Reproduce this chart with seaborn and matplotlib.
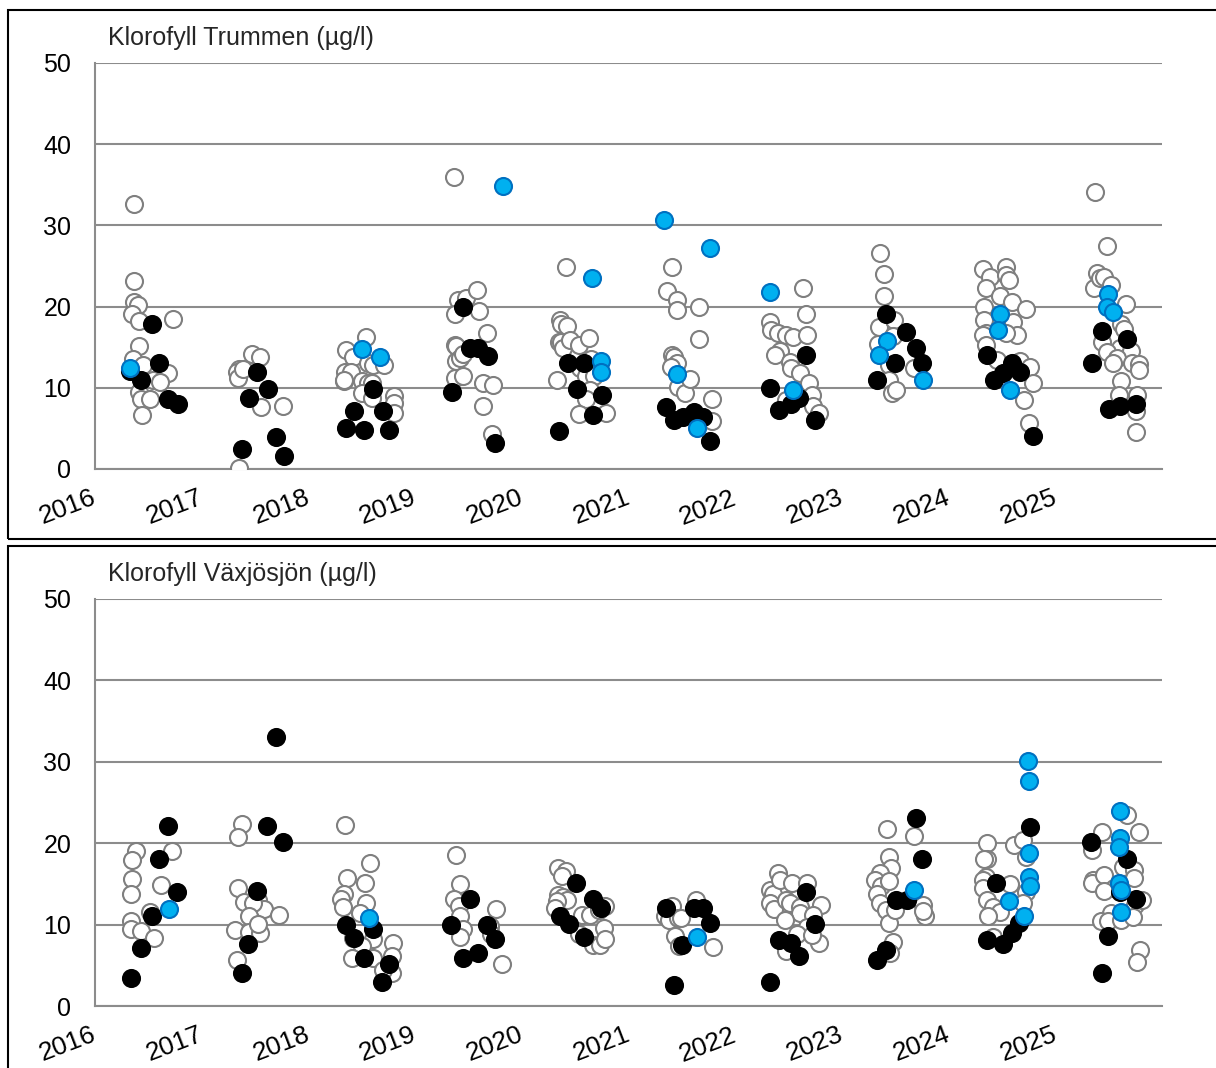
import matplotlib
matplotlib.use("Agg")
import matplotlib.pyplot as plt
from matplotlib.patches import Rectangle
from matplotlib.transforms import ScaledTranslation
import seaborn as sns

# Klorofyll Trummen: decimal year / value (ug/l)
trummen_white_x = [2016.37, 2016.37, 2016.37, 2016.40, 2016.35, 2016.41, 2016.73, 2016.41, 2016.36, 2016.45, 2016.68, 2016.54, 2016.61, 2016.41, 2016.43, 2016.52, 2016.44,
                   2017.35, 2017.33, 2017.34, 2017.39, 2017.47, 2017.55, 2017.35, 2017.56, 2017.76,
                   2018.54, 2018.35, 2018.42, 2018.56, 2018.61, 2018.71, 2018.34, 2018.40, 2018.33, 2018.33, 2018.50, 2018.56, 2018.60, 2018.50, 2018.60, 2018.80, 2018.80, 2018.80,
                   2019.36, 2019.40, 2019.48, 2019.58, 2019.37, 2019.60, 2019.67, 2019.37, 2019.38, 2019.38, 2019.42, 2019.45, 2019.37, 2019.45, 2019.64, 2019.73, 2019.64, 2019.72,
                   2020.41, 2020.36, 2020.37, 2020.42, 2020.35, 2020.37, 2020.39, 2020.45, 2020.54, 2020.63, 2020.55, 2020.60, 2020.65, 2020.68, 2020.33, 2020.64, 2020.60, 2020.54, 2020.79,
                   2021.41, 2021.36, 2021.45, 2021.45, 2021.66, 2021.66, 2021.41, 2021.43, 2021.45, 2021.40, 2021.46, 2021.53, 2021.58, 2021.78, 2021.78,
                   2022.64, 2022.66, 2022.33, 2022.34, 2022.40, 2022.48, 2022.54, 2022.67, 2022.42, 2022.37, 2022.51, 2022.52, 2022.61, 2022.69, 2022.72, 2022.48, 2022.73, 2022.79,
                   2023.36, 2023.39, 2023.39, 2023.35, 2023.49, 2023.34, 2023.48, 2023.44, 2023.68, 2023.44, 2023.47, 2023.51,
                   2024.32, 2024.39, 2024.54, 2024.54, 2024.57, 2024.35, 2024.48, 2024.59, 2024.73, 2024.60, 2024.64, 2024.33, 2024.33, 2024.35, 2024.32, 2024.35, 2024.54, 2024.45, 2024.67, 2024.76, 2024.79, 2024.71, 2024.75,
                   2025.37, 2025.48, 2025.36, 2025.39, 2025.42, 2025.46, 2025.52, 2025.66, 2025.62, 2025.64, 2025.44, 2025.61, 2025.71, 2025.48, 2025.58, 2025.54, 2025.72, 2025.78, 2025.78, 2025.62, 2025.77, 2025.60, 2025.76, 2025.76]
trummen_white_y = [32.6, 23.1, 20.6, 20.2, 19.1, 18.2, 18.5, 15.2, 13.5, 12.8, 11.8, 11.0, 10.7, 9.5, 8.6, 8.6, 6.7,
                   12.3, 11.9, 11.2, 12.3, 14.2, 13.8, 0.1, 7.6, 7.7,
                   16.2, 14.7, 13.8, 13.0, 12.8, 12.8, 11.9, 12.0, 10.8, 11.0, 10.8, 10.6, 10.6, 9.3, 8.7, 9.0, 8.1, 6.9,
                   35.9, 20.8, 21.1, 22.1, 19.1, 19.5, 16.7, 15.3, 15.1, 13.3, 13.7, 14.2, 11.2, 11.5, 10.6, 10.3, 7.8, 4.3,
                   24.9, 18.3, 17.9, 17.6, 15.7, 15.6, 14.9, 15.9, 15.3, 16.1, 12.4, 11.4, 13.6, 11.4, 10.9, 9.7, 8.6, 6.8, 6.9,
                   24.9, 21.9, 20.8, 19.6, 20.0, 16.0, 14.1, 13.8, 13.0, 12.6, 10.1, 9.4, 11.1, 8.6, 5.9,
                   22.3, 19.1, 18.1, 17.1, 16.8, 16.5, 16.2, 16.5, 14.5, 14.0, 13.2, 12.4, 11.8, 10.6, 9.1, 8.5, 7.7, 6.9,
                   26.6, 24.0, 21.3, 17.5, 18.3, 15.4, 16.4, 12.8, 12.4, 11.0, 9.3, 9.7,
                   24.6, 23.7, 24.9, 23.9, 23.3, 22.3, 21.3, 20.6, 19.7, 18.1, 16.5, 20.0, 18.3, 16.7, 16.5, 15.3, 16.8, 13.4, 13.3, 12.6, 10.6, 8.5, 5.7,
                   34.1, 27.5, 22.3, 24.1, 23.5, 23.6, 22.6, 20.3, 17.9, 17.3, 15.7, 14.9, 14.5, 14.4, 13.7, 13.1, 13.1, 12.9, 12.2, 10.8, 9.1, 9.1, 7.1, 4.6]

trummen_black_x = [2016.53, 2016.60, 2016.43, 2016.33, 2016.68, 2016.78,
                   2017.52, 2017.62, 2017.44, 2017.38, 2017.70, 2017.77,
                   2018.61, 2018.43, 2018.70, 2018.35, 2018.52, 2018.76,
                   2019.45, 2019.51, 2019.59, 2019.68, 2019.35, 2019.75,
                   2020.43, 2020.58, 2020.52, 2020.75, 2020.67, 2020.35,
                   2021.35, 2021.43, 2021.51, 2021.61, 2021.70, 2021.76,
                   2022.66, 2022.33, 2022.41, 2022.52, 2022.60, 2022.75,
                   2023.41, 2023.60, 2023.69, 2023.50, 2023.75, 2023.33,
                   2024.36, 2024.59, 2024.67, 2024.51, 2024.43, 2024.79,
                   2025.44, 2025.67, 2025.34, 2025.76, 2025.50, 2025.61]
trummen_black_y = [17.9, 13.0, 11.0, 12.1, 8.6, 8.0,
                   12.0, 9.9, 8.7, 2.5, 4.0, 1.6,
                   9.9, 7.1, 7.2, 5.0, 4.8, 4.8,
                   20.0, 14.9, 14.9, 13.9, 9.5, 3.2,
                   13.0, 13.0, 9.85, 9.1, 6.7, 4.7,
                   7.6, 6.0, 6.4, 7.0, 6.4, 3.4,
                   14.0, 10.0, 7.3, 8.0, 8.7, 6.0,
                   19.1, 16.9, 14.9, 13.0, 13.0, 11.0,
                   14.0, 13.0, 12.0, 11.8, 11.0, 4.1,
                   17.0, 16.0, 13.0, 8.0, 7.4, 7.7]

trummen_blue_x = [2016.33, 2018.50, 2018.67, 2019.82, 2020.66, 2020.74, 2020.74, 2021.33, 2021.76, 2021.45, 2021.64,
                  2022.33, 2022.54, 2023.42, 2023.35, 2023.76, 2024.48, 2024.46, 2024.58, 2025.49, 2025.48, 2025.54]
trummen_blue_y = [12.4, 14.8, 13.8, 34.9, 23.5, 13.3, 12.0, 30.7, 27.2, 11.7, 5.1,
                  21.8, 9.7, 15.8, 14.0, 11.0, 19.1, 17.1, 9.7, 21.6, 19.9, 19.3]

# Klorofyll Växjösjön
vaxjo_white_x = [2016.38, 2016.35, 2016.72, 2016.35, 2016.34, 2016.62, 2016.52, 2016.34, 2016.34, 2016.43, 2016.55,
                 2017.38, 2017.34, 2017.34, 2017.40, 2017.53, 2017.58, 2017.72, 2017.48, 2017.44, 2017.31, 2017.44, 2017.55, 2017.53, 2017.33,
                 2018.34, 2018.58, 2018.36, 2018.53, 2018.33, 2018.31, 2018.32, 2018.54, 2018.48, 2018.42, 2018.61, 2018.50, 2018.41, 2018.61, 2018.79, 2018.78, 2018.78, 2018.70,
                 2019.38, 2019.42, 2019.36, 2019.41, 2019.42, 2019.45, 2019.42, 2019.76, 2019.70, 2019.71, 2019.81,
                 2020.34, 2020.41, 2020.38, 2020.34, 2020.39, 2020.42, 2020.33, 2020.31, 2020.78, 2020.56, 2020.64, 2020.72, 2020.54, 2020.67, 2020.73, 2020.77, 2020.78,
                 2021.41, 2021.34, 2021.38, 2021.46, 2021.49, 2021.44, 2021.47, 2021.63, 2021.79,
                 2022.40, 2022.33, 2022.35, 2022.33, 2022.36, 2022.42, 2022.53, 2022.48, 2022.51, 2022.61, 2022.67, 2022.80, 2022.61, 2022.73, 2022.67, 2022.47, 2022.58, 2022.48, 2022.79, 2022.72,
                 2023.42, 2023.68, 2023.48, 2023.45, 2023.44, 2023.46, 2023.36, 2023.31, 2023.37, 2023.44, 2023.33, 2023.36, 2023.41, 2023.44, 2023.50, 2023.76, 2023.78, 2023.76,
                 2024.36, 2024.36, 2024.33, 2024.35, 2024.32, 2024.32, 2024.36, 2024.42, 2024.48, 2024.37, 2024.58, 2024.61, 2024.70, 2024.73, 2024.70, 2024.73, 2024.42,
                 2025.34, 2025.44, 2025.78, 2025.67, 2025.35, 2025.34, 2025.46, 2025.63, 2025.74, 2025.74, 2025.75, 2025.81, 2025.52, 2025.43, 2025.49, 2025.62, 2025.73, 2025.79, 2025.77, 2025.55, 2025.46]
vaxjo_white_y = [19.1, 17.9, 19.1, 15.6, 13.8, 14.9, 11.5, 10.4, 9.4, 9.2, 8.4,
                 22.4, 20.8, 14.5, 12.8, 13.0, 11.9, 11.2, 12.6, 11.0, 9.3, 9.1, 9.0, 10.1, 5.6,
                 22.2, 17.6, 15.7, 15.1, 13.8, 13.1, 12.2, 12.7, 11.4, 8.4, 8.2, 7.4, 5.9, 5.9, 7.7, 6.1, 4.1, 4.4,
                 18.6, 15.0, 13.1, 12.3, 11.0, 9.4, 8.5, 11.9, 9.8, 8.9, 5.2,
                 17.0, 16.6, 16.0, 13.6, 13.4, 13.0, 12.9, 12.0, 12.3, 11.2, 11.2, 11.8, 8.8, 7.5, 7.5, 9.6, 8.2,
                 12.3, 11.0, 10.6, 10.8, 10.8, 8.6, 7.4, 13.0, 7.2,
                 16.3, 14.3, 13.7, 12.6, 11.9, 15.5, 15.1, 13.0, 12.7, 12.2, 15.1, 12.4, 11.4, 11.2, 9.7, 10.6, 8.9, 6.7, 7.7, 8.7,
                 21.7, 20.9, 7.9, 6.5, 18.3, 16.9, 16.3, 15.5, 14.7, 15.3, 13.8, 12.6, 11.8, 10.2, 11.8, 12.4, 11.0, 11.7,
                 20.0, 18.1, 18.1, 15.9, 15.5, 14.5, 13.0, 12.2, 11.6, 11.0, 15.0, 19.8, 20.4, 14.0, 12.6, 18.3, 8.5,
                 19.2, 21.4, 21.4, 23.5, 15.5, 15.1, 16.1, 17.1, 16.7, 15.7, 12.4, 13.0, 11.4, 10.4, 10.4, 10.6, 10.9, 6.9, 5.4, 14.5, 14.1]

vaxjo_black_x = [2016.68, 2016.60, 2016.77, 2016.53, 2016.43, 2016.34,
                 2017.70, 2017.61, 2017.76, 2017.52, 2017.43, 2017.38,
                 2018.35, 2018.61, 2018.43, 2018.52, 2018.76, 2018.69,
                 2019.51, 2019.34, 2019.67, 2019.75, 2019.45, 2019.59,
                 2020.51, 2020.67, 2020.74, 2020.36, 2020.44, 2020.58,
                 2021.35, 2021.61, 2021.70, 2021.76, 2021.50, 2021.43,
                 2022.33, 2022.66, 2022.75, 2022.41, 2022.52, 2022.60,
                 2023.33, 2023.41, 2023.69, 2023.75, 2023.51, 2023.61,
                 2024.44, 2024.76, 2024.66, 2024.59, 2024.51, 2024.36,
                 2025.33, 2025.67, 2025.61, 2025.76, 2025.49, 2025.44]
vaxjo_black_y = [22.1, 18.0, 14.0, 11.1, 7.1, 3.5,
                 33.1, 22.1, 20.1, 14.1, 7.6, 4.1,
                 10.0, 9.5, 8.4, 5.9, 5.2, 3.0,
                 13.1, 10.0, 10.0, 8.2, 5.9, 6.5,
                 15.1, 13.1, 12.1, 11.0, 10.1, 8.5,
                 12.1, 12.1, 12.1, 10.2, 7.5, 2.6,
                 2.9, 14.0, 10.1, 8.1, 7.7, 6.1,
                 5.7, 6.9, 23.1, 18.1, 13.0, 13.0,
                 15.1, 22.0, 10.2, 9.0, 7.6, 8.1,
                 20.1, 18.1, 14.0, 13.1, 8.6, 4.0]

vaxjo_blue_x = [2016.69, 2018.57, 2021.64, 2023.68, 2024.57, 2024.74, 2024.75, 2024.75, 2024.75, 2024.76, 2024.71,
                2025.61, 2025.61, 2025.60, 2025.60, 2025.62, 2025.62]
vaxjo_blue_y = [11.9, 10.8, 8.5, 14.3, 12.9, 30.1, 27.6, 18.8, 15.9, 14.8, 11.0,
                23.9, 20.6, 19.5, 15.1, 14.3, 11.6]

years = list(range(2016, 2026))
yticks = [0, 10, 20, 30, 40, 50]

sns.set_style("white")
plt.rcParams['font.family'] = ['Liberation Sans', 'DejaVu Sans']

W, H = 1216, 1068
fig = plt.figure(figsize=(W / 100, H / 100), dpi=100)

# frames around each chart
fig.patches.append(Rectangle((8 / W, 1 - 539 / H), 1.2, 529 / H, transform=fig.transFigure,
                             fill=False, edgecolor='black', linewidth=1.5))
fig.patches.append(Rectangle((8 / W, -0.1), 1.2, 0.1 + 1 - 546 / H, transform=fig.transFigure,
                             fill=False, edgecolor='black', linewidth=1.5))

grey = '#8c8c8c'
panels = [
    ("Klorofyll Trummen (µg/l)", 63, 469,
     (trummen_white_x, trummen_white_y), (trummen_black_x, trummen_black_y), (trummen_blue_x, trummen_blue_y)),
    ("Klorofyll Växjösjön (µg/l)", 599, 1006,
     (vaxjo_white_x, vaxjo_white_y), (vaxjo_black_x, vaxjo_black_y), (vaxjo_blue_x, vaxjo_blue_y)),
]

shift = ScaledTranslation(-4 / 100, 0, fig.dpi_scale_trans)

for title, top, bottom, white, black, blue in panels:
    ax = fig.add_axes([95 / W, 1 - bottom / H, (1162 - 95) / W, (bottom - top) / H])
    ax.set_axisbelow(True)
    ax.yaxis.grid(True, color=grey, linewidth=1.5)
    sns.scatterplot(x=white[0], y=white[1], ax=ax, s=150, color='white', edgecolor='#7f7f7f',
                    linewidth=1.5, zorder=3)
    sns.scatterplot(x=black[0], y=black[1], ax=ax, s=150, color='black', edgecolor='black',
                    linewidth=1.5, zorder=4)
    sns.scatterplot(x=blue[0], y=blue[1], ax=ax, s=150, color='#00b0f0', edgecolor='#0070c0',
                    linewidth=1.5, zorder=5)
    ax.set_xlim(2016, 2026)
    ax.set_ylim(0, 50)
    ax.set_yticks(yticks)
    ax.set_xticks(years)
    ax.set_xticklabels([str(y) for y in years], rotation=21, ha='right', rotation_mode='anchor',
                       fontsize=19)
    ax.tick_params(axis='y', labelsize=18)
    ax.tick_params(axis='both', labelcolor='black', color=grey, length=7, width=1.5,
                   direction='out')
    ax.tick_params(axis='x', pad=5)
    ax.tick_params(axis='y', pad=10)
    for lab in ax.get_xticklabels():
        lab.set_transform(lab.get_transform() + shift)
    for side in ['top', 'right']:
        ax.spines[side].set_visible(False)
    for side in ['left', 'bottom']:
        ax.spines[side].set_color(grey)
        ax.spines[side].set_linewidth(1.5)
    ax.text(108 / W, 1 - (top - 25) / H, title, transform=fig.transFigure, fontsize=18,
            va='center', ha='left')

plt.savefig("out.png", dpi=100)
